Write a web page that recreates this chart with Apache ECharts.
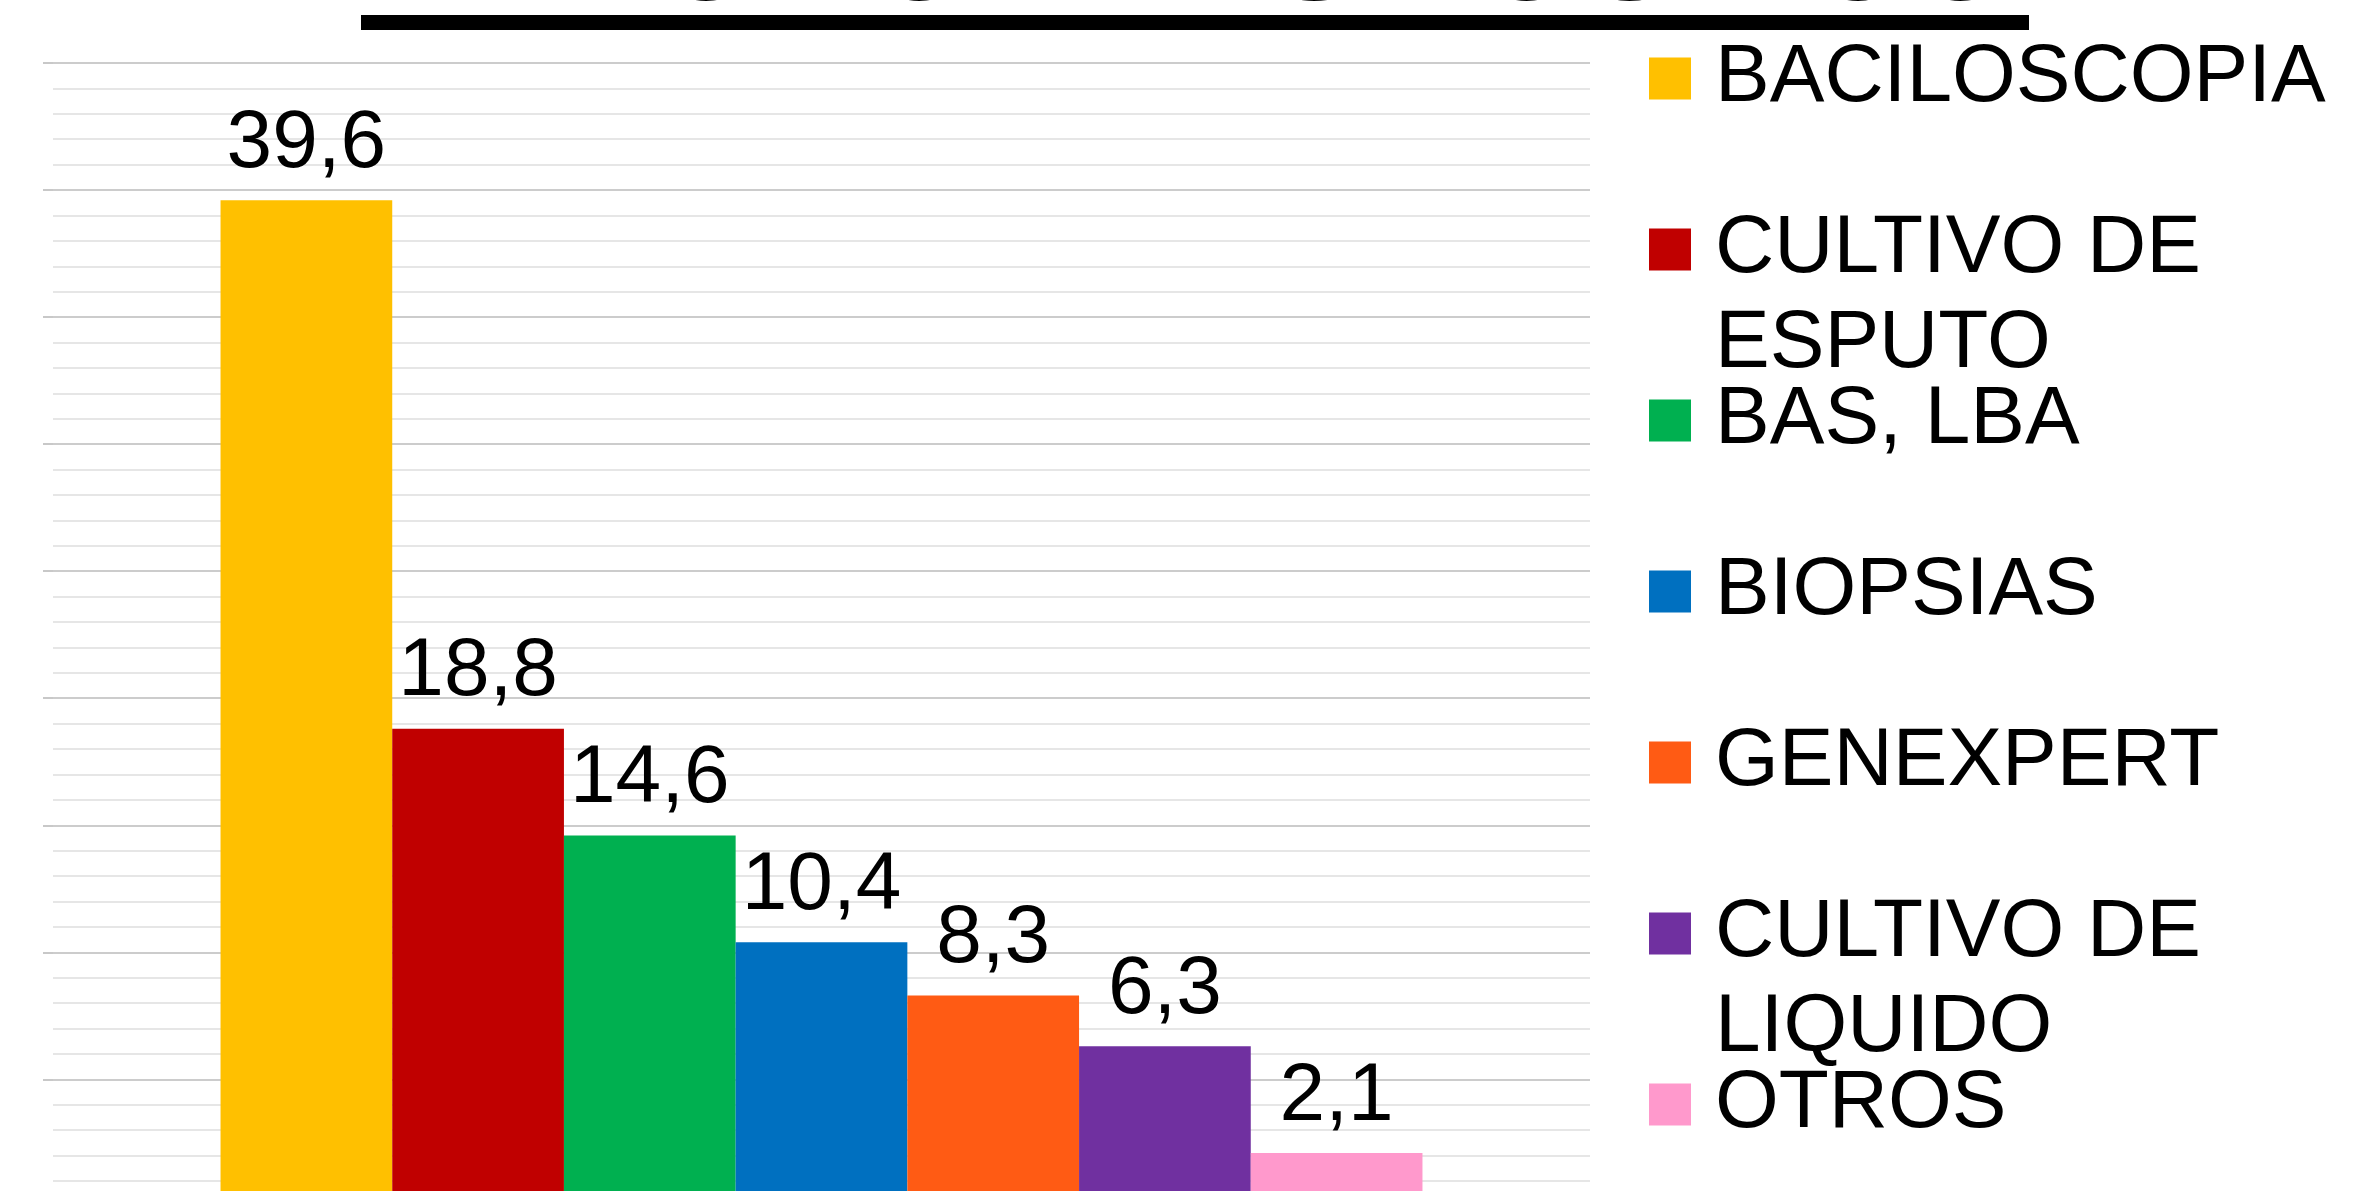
<!DOCTYPE html>
<html>
<head>
<meta charset="utf-8">
<script src="https://cdn.jsdelivr.net/npm/echarts@6/dist/echarts.min.js"></script>
<style>
html,body{margin:0;padding:0;background:#fff;}
#chart{width:2356px;height:1191px;}
</style>
</head>
<body>
<div id="chart"></div>
<script>
const titleText = 'METODO DIAGNOSTICO';
const categories = ['BACILOSCOPIA', 'CULTIVO DE ESPUTO', 'BAS, LBA', 'BIOPSIAS', 'GENEXPERT', 'CULTIVO DE LIQUIDO', 'OTROS'];
const legendLabels = ['BACILOSCOPIA', 'CULTIVO DE\nESPUTO', 'BAS, LBA', 'BIOPSIAS', 'GENEXPERT', 'CULTIVO DE\nLIQUIDO', 'OTROS'];
const values = [39.6, 18.8, 14.6, 10.4, 8.3, 6.3, 2.1];
const yMin = 0, yMax = 45, yInterval = 5;

const FONT = "'Liberation Sans', Arial, sans-serif";
const palette = ['#FFC000', '#C00000', '#00B050', '#0070C0', '#FF5B14', '#7030A0', '#FF99CC'];

const chart = echarts.init(document.getElementById('chart'), null, {renderer: 'canvas'});

const series = categories.map((name, i) => ({
  name: name,
  type: 'bar',
  data: [values[i]],
  barGap: '0%',
  barCategoryGap: '21.8%',
  itemStyle: {color: palette[i]},
  label: {
    show: true,
    position: 'top',
    distance: 15,
    color: '#000',
    fontSize: 82,
    fontFamily: FONT,
    formatter: p => String(p.value).replace('.', ',')
  }
}));

const option = {
  backgroundColor: '#ffffff',
  animation: false,
  color: palette,
  title: {
    text: titleText,
    left: 354,
    top: -110,
    padding: 0,
    textStyle: {fontSize: 142, fontWeight: 'bold', color: '#000', fontFamily: FONT}
  },
  graphic: [{
    type: 'rect',
    shape: {x: 361, y: 15, width: 1668, height: 15},
    style: {fill: '#000'}
  }],
  legend: {
    orient: 'vertical',
    left: 1649,
    top: -64,
    height: 1500,
    padding: 0,
    icon: 'rect',
    itemWidth: 42,
    itemHeight: 42,
    itemGap: -114,
    data: categories,
    formatter: name => {
      const lines = legendLabels[categories.indexOf(name)].split('\n');
      return lines.length === 1 ? '\n' + lines[0] + '\n' : '\n' + lines.join('\n');
    },
    textStyle: {fontSize: 82, lineHeight: 95, color: '#000', fontFamily: FONT, padding: [0, 0, 0, 19]}
  },
  grid: {left: 53, right: 766, top: 63, bottom: -15.4, containLabel: false, outerBoundsMode: 'none'},
  xAxis: {
    type: 'category',
    data: [''],
    axisLine: {show: false},
    axisTick: {show: false},
    axisLabel: {show: false}
  },
  yAxis: {
    type: 'value',
    min: yMin,
    max: yMax,
    interval: yInterval,
    axisLine: {show: false},
    axisLabel: {show: false},
    axisTick: {show: true, length: 10, lineStyle: {color: '#c8c8c8', width: 2}},
    splitLine: {show: true, lineStyle: {color: '#cccccc', width: 2}},
    minorTick: {show: false, splitNumber: 5},
    minorSplitLine: {show: true, lineStyle: {color: '#e6e6e6', width: 2}}
  },
  series: series
};
chart.setOption(option);
</script>
</body>
</html>
